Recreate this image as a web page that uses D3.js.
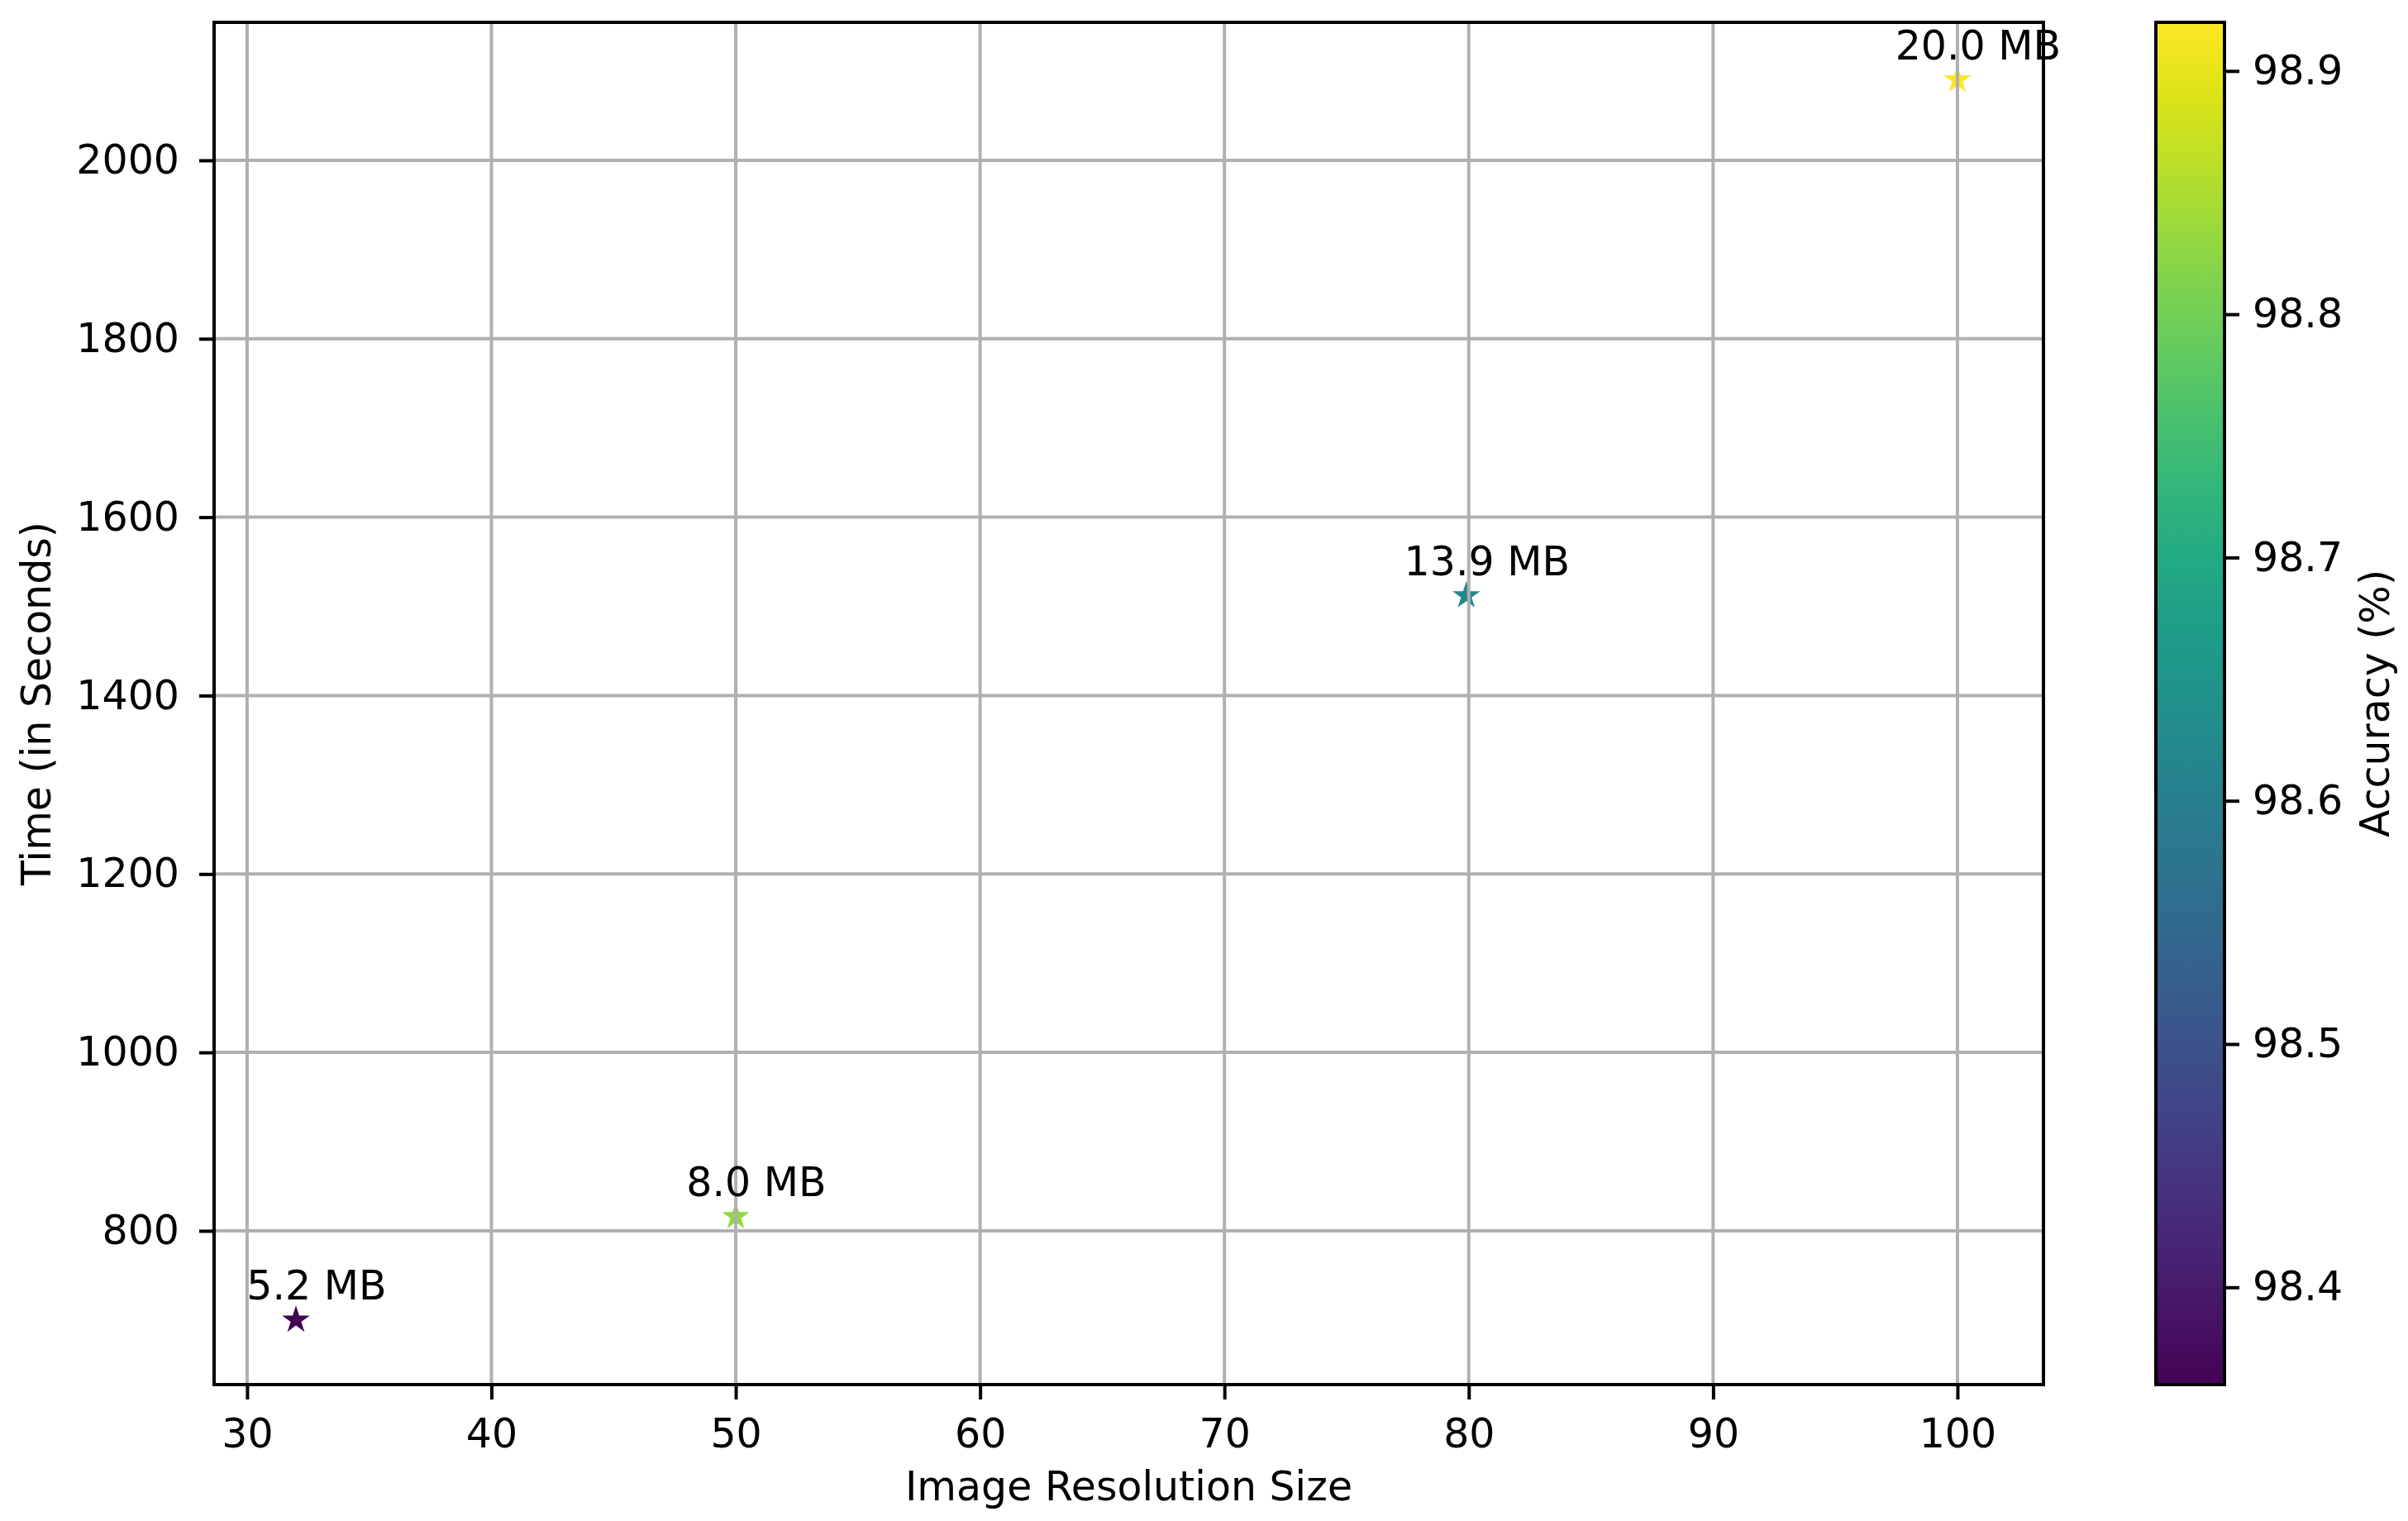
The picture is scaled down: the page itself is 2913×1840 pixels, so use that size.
<!DOCTYPE html>
<html>
<head>
  <script src="https://cdnjs.cloudflare.com/ajax/libs/d3/7.8.5/d3.min.js"></script>
  <style>
    body { margin: 0; background: #fff; }
    text { font-family: "DejaVu Sans", sans-serif; fill: #000; }
  </style>
</head>
<body>
  <svg id="chart" width="2913" height="1840"></svg>
  <script>
    // data
    var resolution = [32, 50, 79.9, 100];
    var seconds = [700, 816, 1512, 2090];
    var accuracy = [98.36, 98.83, 98.62, 98.92];
    var sizeLabels = ['5.2 MB', '8.0 MB', '13.9 MB', '20.0 MB'];
    var xTicks = [30, 40, 50, 60, 70, 80, 90, 100];
    var yTicks = [800, 1000, 1200, 1400, 1600, 1800, 2000];
    var cTicks = [98.4, 98.5, 98.6, 98.7, 98.8, 98.9];
    // axis limits as shown
    var xDomain = [28.65, 103.52];
    var yDomain = [627.6, 2154.7];

    var svg = d3.select('#chart');
    // plot box (window.top is reserved, so prefixed names)
    var pL = 259, pR = 2472, pT = 27, pB = 1675;
    var cbLeft = 2608, cbRight = 2691;
    var fs = 49, tickLen = 18, lw = 4;

    var x = d3.scaleLinear().domain(xDomain).range([pL, pR]);
    var y = d3.scaleLinear().domain(yDomain).range([pB, pT]);
    var color = d3.scaleSequential(d3.interpolateViridis).domain(d3.extent(accuracy));
    var cy = d3.scaleLinear().domain(d3.extent(accuracy)).range([pB, pT]);

    var pts = resolution.map(function(d, i){
      return {x: d, y: seconds[i], a: accuracy[i], label: sizeLabels[i]};
    });

    // stars
    var star = d3.symbol().type(d3.symbolStar).size(350);
    svg.append('g').selectAll('path').data(pts).enter().append('path')
      .attr('d', star)
      .attr('transform', function(d){ return 'translate(' + x(d.x) + ',' + y(d.y) + ')'; })
      .attr('fill', function(d){ return color(d.a); });

    // grid (drawn over the markers, like the original)
    var grid = svg.append('g').attr('stroke', '#b0b0b0').attr('stroke-width', lw);
    grid.selectAll('.gx').data(xTicks).enter().append('line')
      .attr('x1', x).attr('x2', x).attr('y1', pT).attr('y2', pB);
    grid.selectAll('.gy').data(yTicks).enter().append('line')
      .attr('y1', y).attr('y2', y).attr('x1', pL).attr('x2', pR);

    // axes
    var xAxis = d3.axisBottom(x).tickValues(xTicks).tickSize(tickLen).tickPadding(23);
    var yAxis = d3.axisLeft(y).tickValues(yTicks).tickSize(tickLen).tickPadding(24)
      .tickFormat(d3.format('d'));
    var gx = svg.append('g').attr('transform', 'translate(0,' + pB + ')').call(xAxis);
    var gy = svg.append('g').attr('transform', 'translate(' + pL + ',0)').call(yAxis);
    [gx, gy].forEach(function(g){
      g.select('.domain').remove();
      g.selectAll('line').attr('stroke', '#000').attr('stroke-width', lw);
      g.selectAll('text').style('font-size', fs + 'px').attr('fill', '#000');
    });

    svg.append('rect')
      .attr('x', pL).attr('y', pT).attr('width', pR - pL).attr('height', pB - pT)
      .attr('fill', 'none').attr('stroke', '#000').attr('stroke-width', lw);

    // point labels
    svg.append('g').selectAll('text').data(pts).enter().append('text')
      .attr('x', function(d){ return x(d.x) + 25; })
      .attr('y', function(d){ return y(d.y) - 25; })
      .attr('text-anchor', 'middle')
      .style('font-size', fs + 'px')
      .text(function(d){ return d.label; });

    svg.append('text')
      .attr('x', (pL + pR) / 2).attr('y', 1815)
      .attr('text-anchor', 'middle').style('font-size', fs + 'px')
      .text('Image Resolution Size');
    svg.append('text')
      .attr('transform', 'translate(61,' + (pT + pB) / 2 + ') rotate(-90)')
      .attr('text-anchor', 'middle').style('font-size', fs + 'px')
      .text('Time (in Seconds)');

    // colorbar
    var defs = svg.append('defs');
    var grad = defs.append('linearGradient').attr('id', 'cb')
      .attr('x1', 0).attr('y1', 1).attr('x2', 0).attr('y2', 0);
    d3.range(0, 1.0001, 0.05).forEach(function(t){
      grad.append('stop').attr('offset', t).attr('stop-color', d3.interpolateViridis(t));
    });
    svg.append('rect')
      .attr('x', cbLeft).attr('y', pT).attr('width', cbRight - cbLeft).attr('height', pB - pT)
      .attr('fill', 'url(#cb)').attr('stroke', '#000').attr('stroke-width', lw);

    var cAxis = d3.axisRight(cy).tickValues(cTicks).tickSize(tickLen).tickPadding(16)
      .tickFormat(d3.format('.1f'));
    var gc = svg.append('g').attr('transform', 'translate(' + cbRight + ',0)').call(cAxis);
    gc.select('.domain').remove();
    gc.selectAll('line').attr('stroke', '#000').attr('stroke-width', lw);
    gc.selectAll('text').style('font-size', fs + 'px').attr('fill', '#000');

    svg.append('text')
      .attr('transform', 'translate(2890,' + (pT + pB) / 2 + ') rotate(-90)')
      .attr('text-anchor', 'middle').style('font-size', fs + 'px')
      .text('Accuracy (%)');
  </script>
</body>
</html>
